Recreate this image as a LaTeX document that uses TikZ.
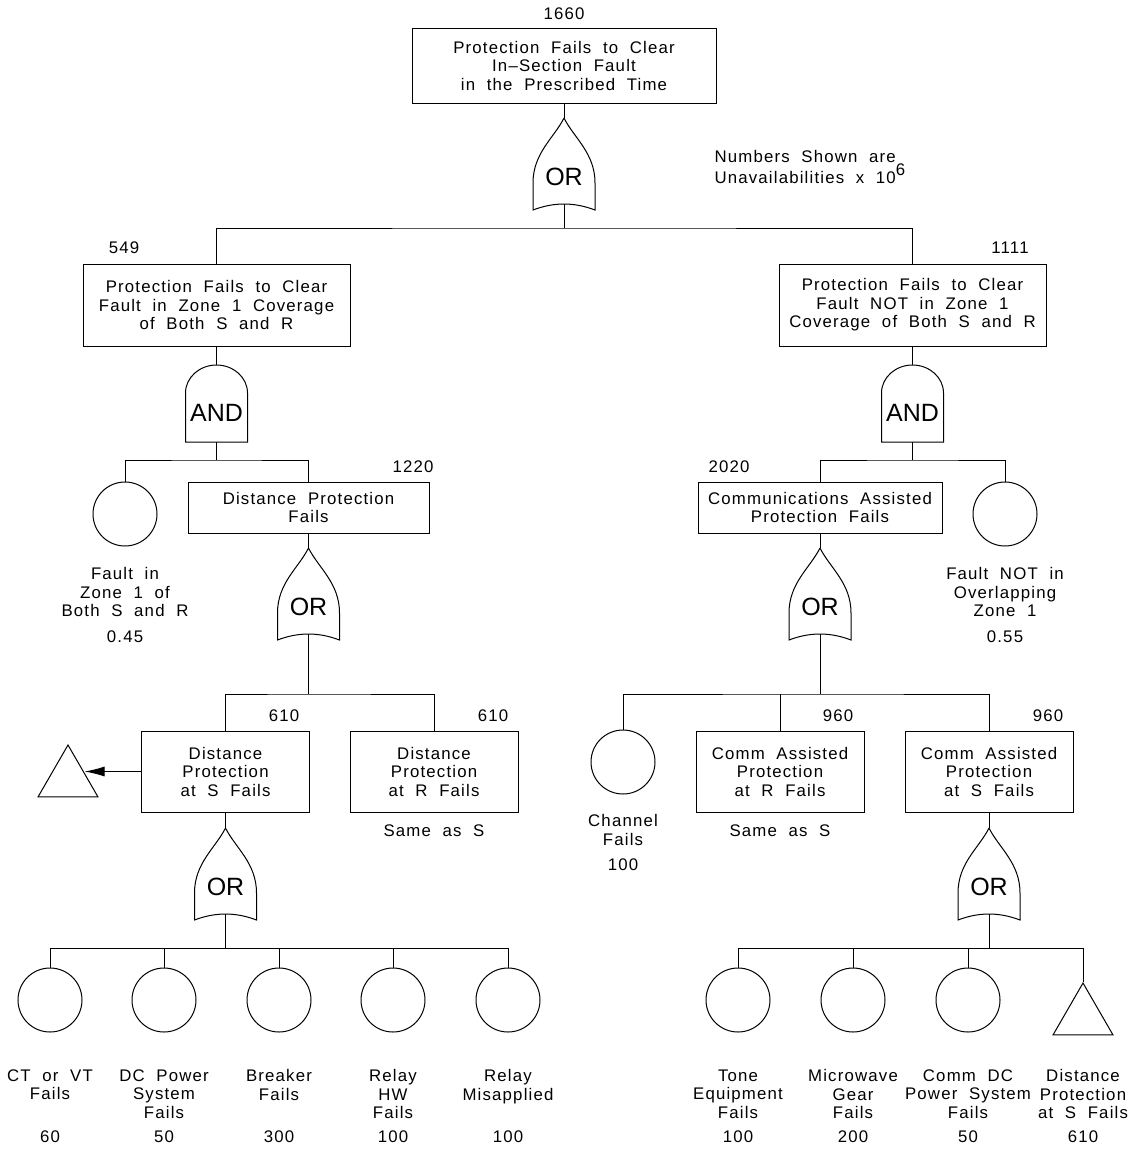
\documentclass[tikz,border=0pt]{standalone}
\usepackage{fontspec}
\setmainfont{Liberation Sans}[LetterSpace=7,WordSpace=2]
\newfontfamily\gatefont{Liberation Sans}
\usetikzlibrary{arrows.meta,shapes.geometric}

\tikzset{
  every node/.style={font=\fontsize{8.4}{9.25}\selectfont},
  event/.style={draw, align=center, inner sep=0pt},
  topbox/.style={event, minimum width=152pt, minimum height=37.5pt},
  halfbox/.style={event, minimum width=133.5pt, minimum height=41pt},
  flatbox/.style={event, minimum height=25.5pt},
  smallbox/.style={event, minimum width=84pt, minimum height=40.5pt},
  basic/.style={draw, circle, inner sep=0pt, minimum size=32pt},
  transfer/.style={draw, regular polygon, regular polygon sides=3,
    inner sep=0pt, minimum size=34.6pt},
  num/.style={inner sep=0pt},
  lbl/.style={align=center, inner sep=0pt},
  gatetext/.style={inner sep=0pt, font=\gatefont\fontsize{12.5}{14}\selectfont},
  orgate/.pic={
    \draw (0,0) .. controls (-10,20) and (-31,35) .. (-31,65) -- (-31,92)
      .. controls (-10,84) and (10,84) .. (31,92) -- (31,65)
      .. controls (31,35) and (10,20) .. (0,0);
    \node[gatetext] (-t) at (0,59) {OR};
    \coordinate (-in) at (0,0);
    \coordinate (-out) at (0,86);
  },
  andgate/.pic={
    \draw (-31,77) -- (-31,28) .. controls (-31,12.5) and (-17,0) .. (0,0)
      .. controls (17,0) and (31,12.5) .. (31,28) -- (31,77) -- cycle;
    \node[gatetext] (-t) at (0,48) {AND};
    \coordinate (-in) at (0,0);
    \coordinate (-out) at (0,77);
  }
}

\begin{document}
\begin{tikzpicture}[x=0.5pt,y=-0.5pt,line width=0.5pt]
\useasboundingbox (0,0) rectangle (1129,1151);

% top event
\node[topbox] (top) at (564,65.5) {Protection Fails to Clear\\In--Section Fault\\in the Prescribed Time};
\node[num] (n1660) at (564,14) {1660};
\pic (g0) at (564,118) {orgate};
\draw (top.south) -- (g0-in);
\node[lbl, anchor=west, align=left] (note) at (714,167) {Numbers Shown are\\Unavailabilities x 10\raisebox{4pt}{6}};
\coordinate (b0) at (564,228);
\draw (g0-out) -- (b0);

% second level
\node[halfbox] (zone1) at (216.5,305) {Protection Fails to Clear\\Fault in Zone 1 Coverage\\of Both S and R};
\node[halfbox] (nozone1) at (912.5,305) {Protection Fails to Clear\\Fault NOT in Zone 1\\Coverage of Both S and R};
\node[num] (n549) at (124,248) {549};
\node[num] (n1111) at (1010,248) {1111};
\draw (zone1.north) |- (b0) -| (nozone1.north);

% left AND branch
\pic (gA) at (216.5,365) {andgate};
\draw (zone1.south) -- (gA-in);
\coordinate (bA) at (216.5,460);
\draw (gA-out) -- (bA);
\node[basic] (fz1) at (125,514) {};
\node[lbl, anchor=north] (fz1-l) at (125,567) {Fault in\\Zone 1 of\\Both S and R\\[3.5pt]0.45};
\node[flatbox, minimum width=120.5pt] (dist) at (308.5,507.5) {Distance Protection\\Fails};
\node[num] (n1220) at (413,467) {1220};
\draw (fz1.north) |- (bA) -| (dist.north);

% right AND branch
\pic (gB) at (912.5,365) {andgate};
\draw (nozone1.south) -- (gB-in);
\coordinate (bB) at (912.5,460);
\draw (gB-out) -- (bB);
\node[flatbox, minimum width=122pt] (comm) at (820,507.5) {Communications Assisted\\Protection Fails};
\node[num] (n2020) at (729,467) {2020};
\node[basic] (fnz) at (1005,514) {};
\node[lbl, anchor=north] (fnz-l) at (1005,567) {Fault NOT in\\Overlapping\\Zone 1\\[3.5pt]0.55};
\draw (comm.north) |- (bB) -| (fnz.north);

% distance protection
\pic (gD) at (308.5,548) {orgate};
\draw (dist.south) -- (gD-in);
\coordinate (bD) at (308.5,694);
\draw (gD-out) -- (bD);
\node[smallbox] (distS) at (225.5,771.5) {Distance\\Protection\\at S Fails};
\node[smallbox] (distR) at (434,771.5) {Distance\\Protection\\at R Fails};
\node[num] (n610a) at (284,716) {610};
\node[num] (n610b) at (493,716) {610};
\node[lbl] (sameD) at (434,831) {Same as S};
\draw (distS.north) |- (bD) -| (distR.north);
\node[transfer] (xferL) at (68,779.6) {};
\draw[-{Latex[length=10pt,width=5pt]}] (distS.west) -- ([xshift=-2pt]distS.west -| xferL.east);

% communications assisted protection
\pic (gC) at (820,548) {orgate};
\draw (comm.south) -- (gC-in);
\coordinate (bC) at (820,694);
\draw (gC-out) -- (bC);
\node[basic] (chan) at (623,762) {};
\node[lbl, anchor=north] (chan-l) at (623,814) {Channel\\Fails\\[3.5pt]100};
\node[smallbox] (commR) at (780,771.5) {Comm Assisted\\Protection\\at R Fails};
\node[smallbox] (commS) at (989,771.5) {Comm Assisted\\Protection\\at S Fails};
\node[num] (n960a) at (838,716) {960};
\node[num] (n960b) at (1048,716) {960};
\node[lbl] (sameC) at (780,831) {Same as S};
\draw (chan.north) |- (bC) -| (commS.north);
\draw (commR.north) -- (commR.north |- bC);

% distance protection at S
\pic (gS) at (225.5,828) {orgate};
\draw (distS.south) -- (gS-in);
\coordinate (bS) at (225.5,948);
\draw (gS-out) -- (bS);
\node[basic] (ctvt) at (50,1000) {};
\node[basic] (dcps) at (164,1000) {};
\node[basic] (brk) at (279,1000) {};
\node[basic] (relhw) at (393,1000) {};
\node[basic] (relmis) at (508,1000) {};
\draw (ctvt.north) |- (bS) -| (relmis.north);
\draw (dcps.north) -- (dcps.north |- bS);
\draw (brk.north) -- (brk.north |- bS);
\draw (relhw.north) -- (relhw.north |- bS);
\node[lbl, anchor=north] (ctvt-l) at (50,1069) {CT or VT\\Fails};
\node[lbl, anchor=north] (dcps-l) at (164,1069) {DC Power\\System\\Fails};
\node[lbl, anchor=north] (brk-l) at (279,1069) {Breaker\\Fails};
\node[lbl, anchor=north] (relhw-l) at (393,1069) {Relay\\HW\\Fails};
\node[lbl, anchor=north] (relmis-l) at (508,1069) {Relay\\Misapplied};
\node[num] (ctvt-n) at (50,1137) {60};
\node[num] (dcps-n) at (164,1137) {50};
\node[num] (brk-n) at (279,1137) {300};
\node[num] (relhw-n) at (393,1137) {100};
\node[num] (relmis-n) at (508,1137) {100};

% comm assisted protection at S
\pic (gCS) at (989,828) {orgate};
\draw (commS.south) -- (gCS-in);
\coordinate (bCS) at (989,948);
\draw (gCS-out) -- (bCS);
\node[basic] (tone) at (738,1000) {};
\node[basic] (mwave) at (853,1000) {};
\node[basic] (commdc) at (968,1000) {};
\node[transfer] (xferR) at (1083,1017.6) {};
\draw (tone.north) |- (bCS) -| (xferR.north);
\draw (mwave.north) -- (mwave.north |- bCS);
\draw (commdc.north) -- (commdc.north |- bCS);
\node[lbl, anchor=north] (tone-l) at (738,1069) {Tone\\Equipment\\Fails};
\node[lbl, anchor=north] (mwave-l) at (853,1069) {Microwave\\Gear\\Fails};
\node[lbl, anchor=north] (commdc-l) at (968,1069) {Comm DC\\Power System\\Fails};
\node[lbl, anchor=north] (xferR-l) at (1083,1069) {Distance\\Protection\\at S Fails};
\node[num] (tone-n) at (738,1137) {100};
\node[num] (mwave-n) at (853,1137) {200};
\node[num] (commdc-n) at (968,1137) {50};
\node[num] (xferR-n) at (1083,1137) {610};
\end{tikzpicture}
\end{document}
